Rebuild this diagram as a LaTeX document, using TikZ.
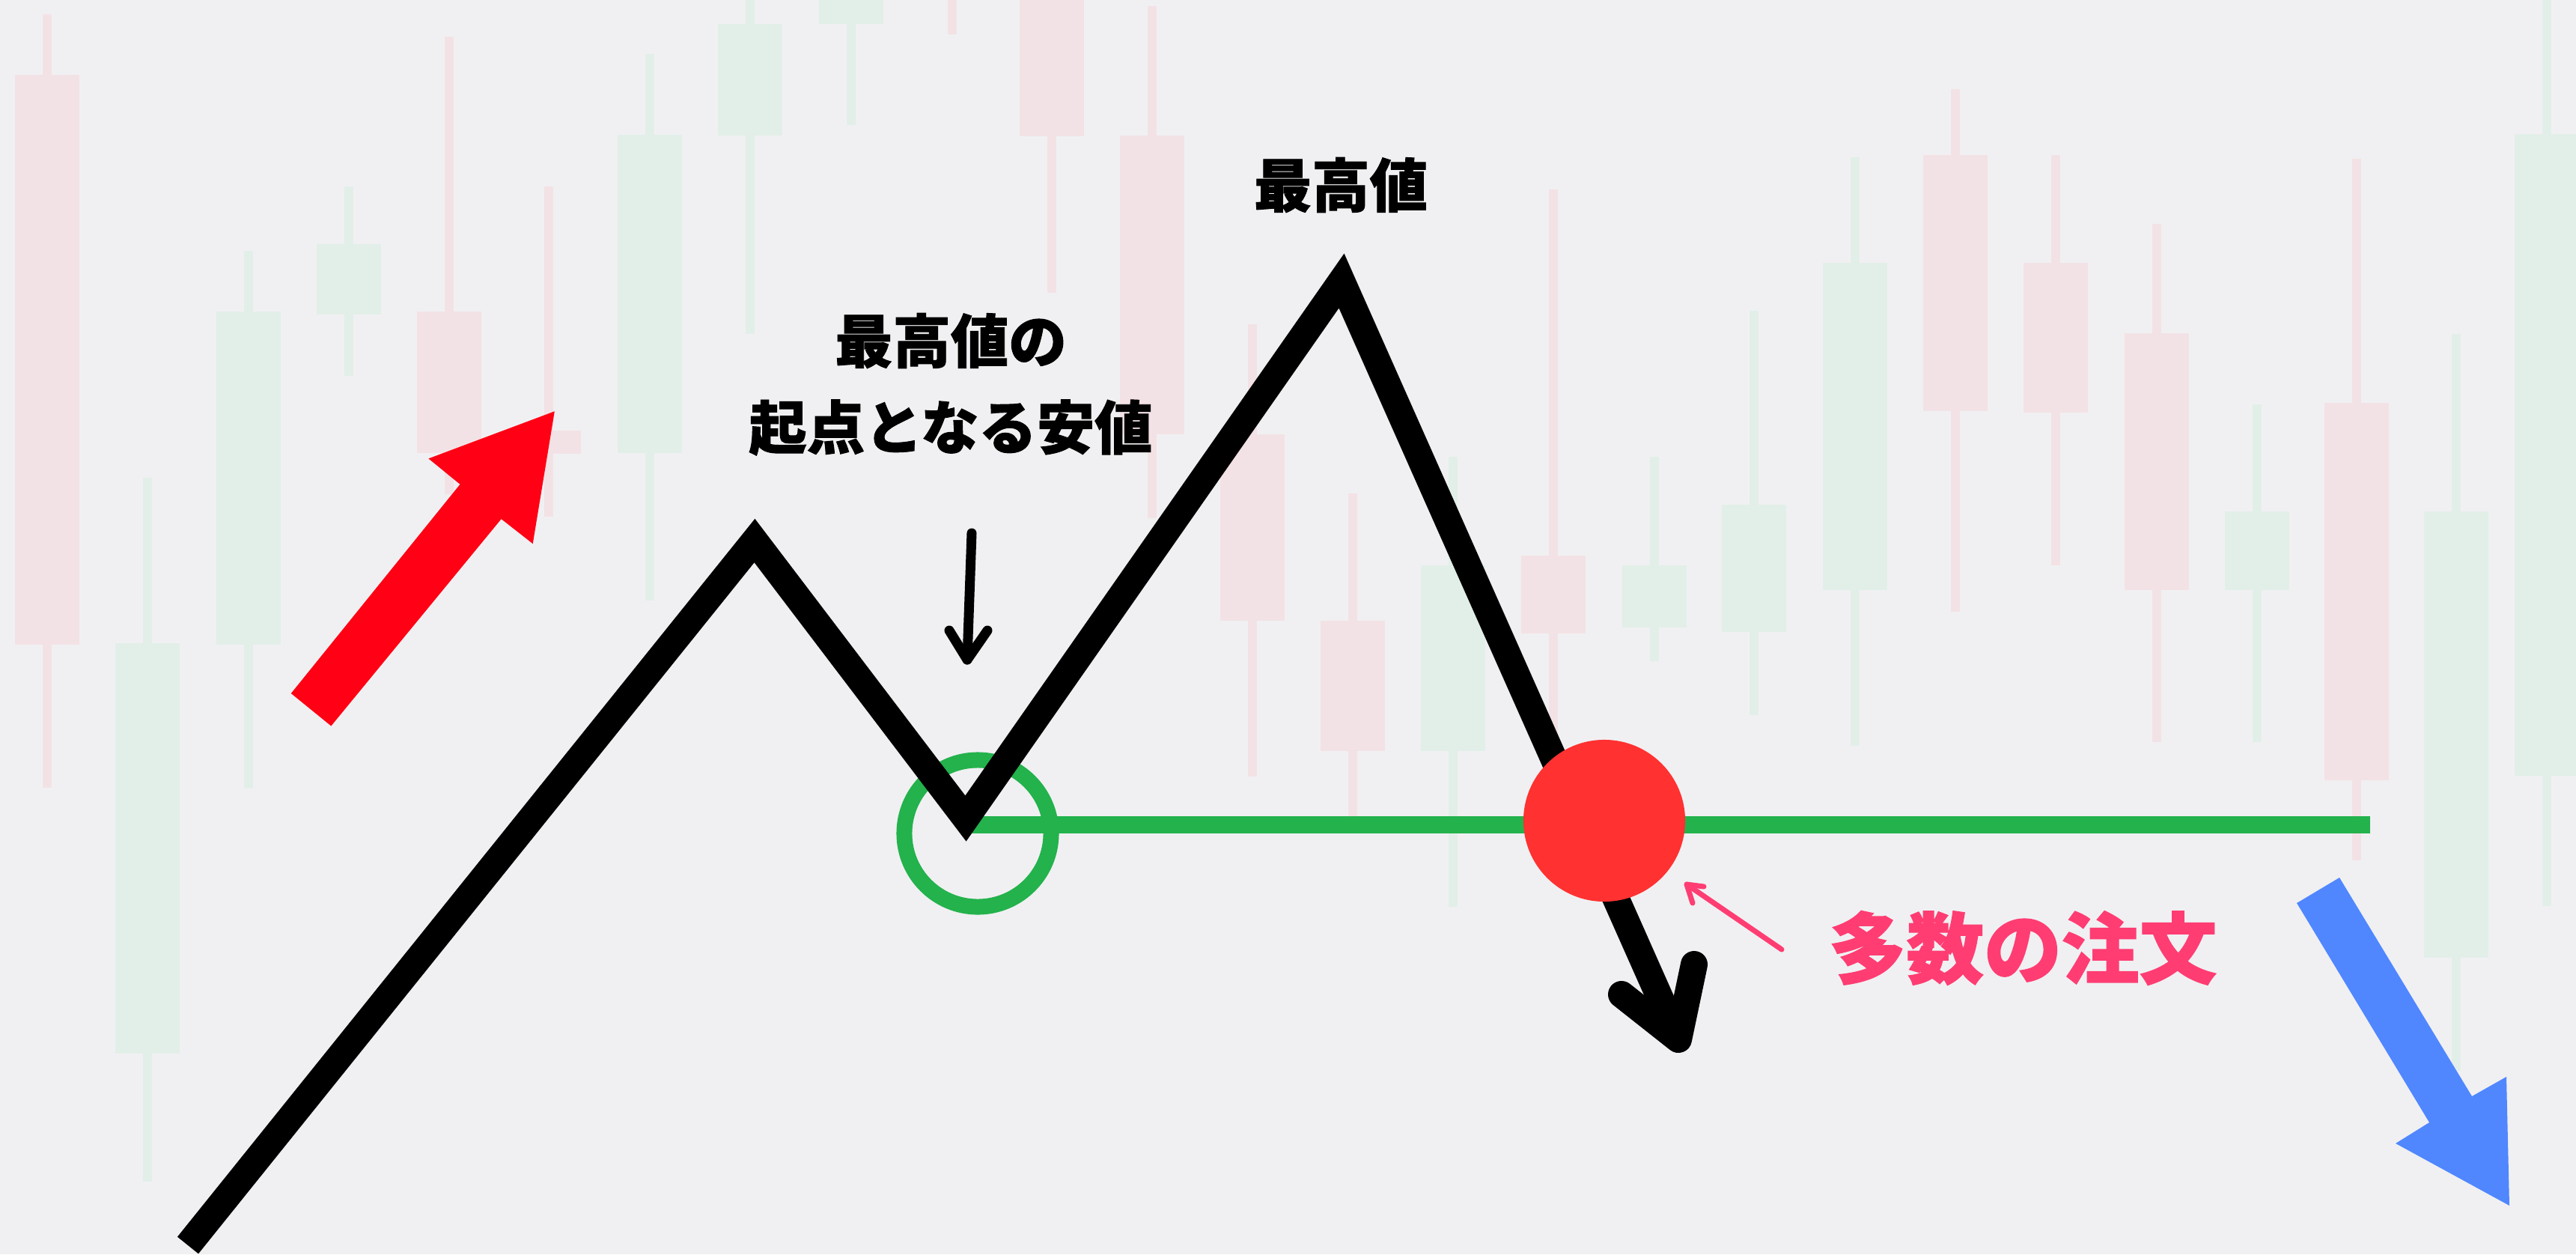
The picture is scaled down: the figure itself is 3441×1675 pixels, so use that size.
\documentclass[tikz,border=0pt]{standalone}
\usepackage{fontspec}
\newfontfamily\jp{Noto Sans CJK JP}[BoldFeatures={FakeBold=1.2}]
\definecolor{bgc}{HTML}{F0F0F2}
\definecolor{pk}{HTML}{F3E2E5}
\definecolor{gr}{HTML}{E2EFE8}
\definecolor{lgreen}{HTML}{23B24C}
\definecolor{rcirc}{HTML}{FF3131}
\definecolor{rarrow}{HTML}{FF0014}
\definecolor{barrow}{HTML}{5087FF}
\definecolor{ptext}{HTML}{FF3D73}
\tikzset{
  jplabel/.style={inner sep=0pt, font=\jp\bfseries\fontsize{22}{26}\selectfont, text=black},
  jppink/.style={inner sep=0pt, font=\jp\bfseries\fontsize{29.5}{34}\selectfont, text=ptext},
  zigzag/.style={line width=0.36cm, line join=miter, line cap=butt, draw=black},
  headblack/.style={line width=0.36cm, line join=round, line cap=round, draw=black},
  smallarrow/.style={line width=0.13cm, line join=round, line cap=round, draw=black},
  pinkline/.style={line width=0.07cm, line cap=round, line join=round, draw=ptext},
}
\begin{document}
\begin{tikzpicture}[x=0.01cm, y=-0.01cm]
\useasboundingbox (0,0) rectangle (3441,1675);
\fill[bgc] (0,0) rectangle (3441,1675);
% background candlesticks
\foreach \x/\bt/\bb/\wt/\wb/\c in {
  63/100/861/19/1052/pk, 197/859/1407/638/1578/gr, 332/416/861/335/1053/gr,
  466/326/420/249/502/gr, 600/416/605/49/660/pk, 733/575/606/249/690/pk,
  868/180/605/72/802/gr, 1002/32/181/0/446/gr, 1137/0/32/0/167/gr,
  1272/-20/-20/0/46/pk, 1405/0/182/0/391/pk, 1539/181/580/8/692/pk,
  1673/580/829/433/1037/pk, 1807/829/1003/659/1090/pk, 1941/755/1003/610/1211/gr,
  2075/742/846/253/1000/pk, 2210/755/838/610/883/gr, 2343/674/844/415/955/gr,
  2478/351/788/210/996/gr, 2612/207/549/119/817/pk, 2746/351/551/207/755/pk,
  2881/445/788/299/991/pk, 3015/683/788/540/991/gr, 3148/538/1042/212/1149/pk,
  3281/683/1279/446/1430/gr, 3402/179/1036/0/1210/gr}
{
  \fill[\c] (\x-6,\wt) rectangle (\x+6,\wb);
  \fill[\c] (\x-43,\bt) rectangle (\x+43,\bb);
}
% coordinates of the price path
\coordinate (start) at (251,1663);
\coordinate (peakA) at (1008,722);
\coordinate (trough) at (1290,1093);
\coordinate (peakB) at (1792,375);
\coordinate (tip) at (2242,1388);
\coordinate (barbL) at (2166,1328);
\coordinate (barbR) at (2263,1288);
\coordinate (lineEnd) at (3166,1101);
% green support line and ring
\draw[lgreen, line width=0.23cm] (1284,1101) -- (lineEnd);
\node[draw=lgreen, line width=0.21cm, circle, minimum size=1.96cm, inner sep=0pt] (ring) at (1306,1113) {};
% main zigzag
\draw[zigzag] (start) -- (peakA) -- (trough) -- (peakB) -- (tip);
\draw[headblack] (barbL) -- (tip) -- (barbR);
% red order circle
\node[fill=rcirc, circle, minimum size=2.16cm, inner sep=0pt] (orders) at (2143,1096) {};
% red up arrow
\fill[rarrow] (740.8,549.3) -- (572.4,612.4) -- (614.5,646.8) -- (388.8,926.0)
  -- (442.3,969.5) -- (669.6,693.1) -- (711.7,726.1) -- cycle;
% blue down arrow
\fill[barrow] (3068,1206) -- (3125,1172) -- (3302,1464) -- (3348,1438)
  -- (3352,1610) -- (3200,1527) -- (3245,1499) -- cycle;
% labels
\node[jplabel] (lab1) at (1270,455) {最高値の};
\node[jplabel] (lab2) at (1270,571) {起点となる安値};
\node[jplabel] (lab3) at (1791,247) {最高値};
\node[jppink] (lab4) at (2702,1266) {多数の注文};
% small pointer arrow
\coordinate (sTop) at (1298,712);
\coordinate (sTip) at (1292,881);
\draw[smallarrow] (sTop) -- (sTip);
\draw[smallarrow] (1268,842) -- (sTip) -- (1319,842);
% pink pointer
\coordinate (pTail) at (2380,1268);
\coordinate (pTip) at (2253,1181);
\draw[pinkline] (pTail) -- (pTip);
\draw[pinkline] (2261,1206) -- (pTip) -- (2276,1184);
\end{tikzpicture}
\end{document}
